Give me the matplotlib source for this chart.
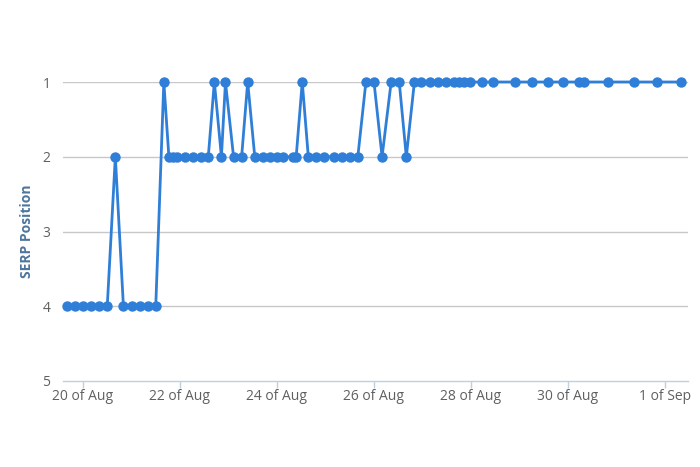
import matplotlib
matplotlib.use("Agg")
import matplotlib.pyplot as plt
import matplotlib.dates as mdates
import pandas as pd

timestamps = [
    "2014-08-19 16:00", "2014-08-19 20:00", "2014-08-20 00:00", "2014-08-20 04:00",
    "2014-08-20 08:00", "2014-08-20 12:00", "2014-08-20 16:00", "2014-08-20 20:00",
    "2014-08-21 00:00", "2014-08-21 04:00", "2014-08-21 08:00", "2014-08-21 12:00",
    "2014-08-21 16:00", "2014-08-21 18:30", "2014-08-21 20:30", "2014-08-21 22:30",
    "2014-08-22 02:30", "2014-08-22 06:30", "2014-08-22 10:30", "2014-08-22 14:00",
    "2014-08-22 17:00", "2014-08-22 20:30", "2014-08-22 22:30", "2014-08-23 02:30",
    "2014-08-23 06:30", "2014-08-23 09:30", "2014-08-23 13:00", "2014-08-23 17:00",
    "2014-08-23 20:30", "2014-08-24 00:00", "2014-08-24 03:00", "2014-08-24 08:00",
    "2014-08-24 09:30", "2014-08-24 12:30", "2014-08-24 15:30", "2014-08-24 19:30",
    "2014-08-24 23:30", "2014-08-25 04:00", "2014-08-25 08:00", "2014-08-25 12:00",
    "2014-08-25 16:00", "2014-08-25 20:00", "2014-08-26 00:00", "2014-08-26 04:00",
    "2014-08-26 08:30", "2014-08-26 12:30", "2014-08-26 16:00", "2014-08-26 20:00",
    "2014-08-26 23:30", "2014-08-27 03:30", "2014-08-27 07:30", "2014-08-27 11:30",
    "2014-08-27 15:30", "2014-08-27 18:00", "2014-08-27 20:30", "2014-08-27 23:30",
    "2014-08-28 05:30", "2014-08-28 11:00", "2014-08-28 22:00", "2014-08-29 06:00",
    "2014-08-29 14:00", "2014-08-29 21:30", "2014-08-30 05:30", "2014-08-30 08:00",
    "2014-08-30 20:00", "2014-08-31 08:30", "2014-08-31 20:00", "2014-09-01 08:00",
]
positions = [
    4, 4, 4, 4, 4, 4, 2, 4, 4, 4, 4, 4,
    1, 2, 2, 2, 2, 2, 2, 2,
    1, 2, 1, 2, 2, 1,
    2, 2, 2, 2, 2, 2, 2,
    1, 2, 2, 2, 2, 2, 2, 2,
    1, 1, 2, 1, 1, 2,
    1, 1, 1, 1, 1, 1, 1, 1, 1, 1, 1, 1, 1, 1, 1, 1, 1, 1, 1, 1, 1,
]
tick_dates = ["2014-08-20", "2014-08-22", "2014-08-24", "2014-08-26",
              "2014-08-28", "2014-08-30", "2014-09-01"]
tick_labels = ["20 of Aug", "22 of Aug", "24 of Aug", "26 of Aug",
               "28 of Aug", "30 of Aug", "1 of Sep"]
y_ticks = [1, 2, 3, 4, 5]

plt.rcParams['font.family'] = ['Open Sans', 'DejaVu Sans']

fig = plt.figure(figsize=(7, 4.67), dpi=100)
ax = fig.add_axes([63/700, 1 - 381/467, (688-63)/700, (381-82)/467])

x = pd.to_datetime(timestamps)
blue = "#2f7ed8"
ax.plot(x, positions, color=blue, linewidth=2.0, marker='o', markersize=7.5,
        markeredgewidth=0, clip_on=False, zorder=3)

ax.set_ylim(5, 1)
ax.set_yticks(y_ticks)
ax.set_yticklabels([str(v) for v in y_ticks])
ax.set_xlim(pd.Timestamp("2014-08-20") - pd.Timedelta(hours=9.9),
            pd.Timestamp("2014-08-20") + pd.Timedelta(hours=299.4))
ax.set_xticks(pd.to_datetime(tick_dates))
ax.set_xticklabels(tick_labels)

for v in y_ticks[:-1]:
    ax.axhline(v, color="#c8c8c8", linewidth=1, zorder=1)

for s in ["top", "right", "left"]:
    ax.spines[s].set_visible(False)
ax.spines["bottom"].set_color("#c0d0e0")
ax.spines["bottom"].set_linewidth(1)

ax.tick_params(axis='x', colors="#c0d0e0", length=5, width=1, labelcolor="#606060",
               labelsize=10, pad=1)
ax.tick_params(axis='y', length=0, labelcolor="#606060", labelsize=10, pad=9)

ax.set_ylabel("SERP Position", color="#4d759e", fontsize=10, fontweight='bold',
              labelpad=6)

fig.savefig("out.png", dpi=100)
